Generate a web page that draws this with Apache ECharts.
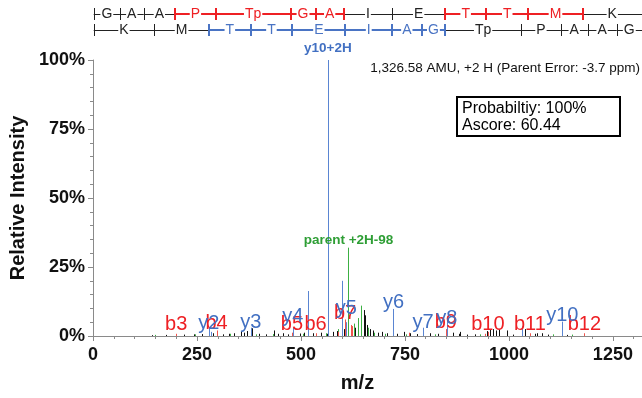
<!DOCTYPE html>
<html><head><meta charset="utf-8">
<script src="https://cdn.jsdelivr.net/npm/echarts@6/dist/echarts.min.js"></script>
<style>html,body{margin:0;padding:0;background:#fff}#c{width:642px;height:398px}</style>
</head><body><div id="c"></div>
<script>
const FONT = 'Arial, "Liberation Sans", Helvetica, sans-serif';

// axis ticks
const xTickStep = 250;
const yTickStep = 25;

// labelled fragment ions (m/z, % intensity, label level in %)
const bIonNames = ['b3','b4','b5','b6','b7','b9','b10','b11','b12'];
const bIonMz = [200.1, 297.2, 478.2, 535.2, 606.2, 848.4, 949.4, 1050.5, 1181.5];
const bIonIntensity = [0.8, 2.0, 1.2, 1.0, 6.0, 2.5, 1.5, 1.0, 1.0];
const bLabelLevel = [4.3, 4.6, 4.0, 4.0, 8.0, 5.0, 4.3, 4.0, 4.3];

const yIonNames = ['y2','y3','y4','y5','y6','y7','y8','y10'];
const yIonMz = [278.2, 379.2, 480.3, 609.3, 722.4, 793.4, 850.4, 1128.5];
const yIonIntensity = [3.0, 3.0, 3.0, 5.0, 9.8, 3.0, 5.8, 5.2];
const yLabelLevel = [4.6, 5.0, 7.0, 10.0, 12.2, 5.0, 6.4, 7.6];

// special annotated peaks
const specialNames = ['y10+2H', 'parent +2H-98'];
const specialMz = [564.8, 614.3];
const specialIntensity = [100, 32];

// other peaks
const bluePeaks = [[516, 16.3], [597.6, 20], [1031, 3.5], [284, 1.5]];
const greenPeaks = [[150,0.4],[246,0.6],[330,0.8],[392,0.6],[432,0.7],[505,0.8],[560,1.0],[590,2.5],[628,4.5],[638,6.5],[644,11],[662,3],[676,1.2],[702,0.8],[752,0.6],[822,0.6],[931,0.6],[1106,0.6],[1151,0.5]];
const redPeaks = [[565,1.0],[590,1.5],[620,4.0],[623,3.6],[760,1.2],[943,0.8]];
const blackPeaks = [[143,0.3],[175,0.4],[218,0.5],[243,0.6],[262,0.7],[279,2.2],[288,1.0],[312,0.6],[328,0.8],[339,1.0],[356,1.6],[363,1.2],[371,1.8],[383,2.8],[398,0.8],[416,0.6],[434,2.0],[446,0.8],[458,1.0],[470,0.6],[497,0.9],[508,1.2],[530,1.0],[547,1.2],[562,0.8],[578,1.5],[586,1.8],[603,2.5],[630,3.0],[636,5.0],[651,9.4],[655,7.5],[659,4.0],[666,2.5],[674,2.0],[685,1.2],[695,1.5],[708,1.0],[730,0.8],[747,1.5],[763,1.0],[780,0.7],[811,1.0],[830,0.8],[866,1.2],[879,0.8],[883,1.5],[899,0.5],[918,0.6],[947,1.8],[955,2.2],[962,2.5],[968,2.0],[975,2.4],[995,2.0],[1010,0.5],[1039,2.5],[1062,0.8],[1067,1.0],[1080,1.0],[1095,0.5],[1140,0.4]];

// peptide fragment ladder
const peptide = ['G','A','A','P','Tp','G','A','I','E','T','T','M','K'];
const bSites = [1.7, 64.8, 121.6, 197.5, 295, 475, 535, 603, 719, 847, 945, 1047, 1177, 1320];
const bSeen = [3,4,5,6,7,9,10,11,12];
const ySites = [1.7, 147, 279, 379, 479, 607, 719, 790, 847, 1029, 1125, 1189, 1259, 1320];
const ySeen = [2,3,4,5,6,7,8,10];

const RED = '#ee2024', RED_LINE = '#f0544c';
const BLUE = '#4270c2', BLUE_LINE = '#5a85d2';
const GREEN = '#2e9e35', GREEN_LINE = '#3cb043';
const BLACK = '#111';

function sticks(data, color, z) {
  return {
    type: 'custom', data: data, z: z, silent: true, clip: false,
    renderItem: function (params, api) {
      const top = api.coord([api.value(0), api.value(1)]);
      const base = api.coord([api.value(0), 0]);
      const x = Math.round(top[0]) + 0.5;
      return { type: 'line', shape: { x1: x, y1: top[1], x2: x, y2: base[1] },
        style: { stroke: color, lineWidth: 1 } };
    }
  };
}
function labels(names, mz, level, color, font, vAlign, gap, z) {
  return {
    type: 'custom', data: mz.map((m, i) => [m, level[i]]), z: z, silent: true, clip: false,
    renderItem: function (params, api) {
      const p = api.coord([api.value(0), api.value(1)]);
      return { type: 'text', x: p[0], y: p[1] - gap,
        style: { text: names[params.dataIndex], fill: color, font: font, align: 'center', verticalAlign: vAlign } };
    }
  };
}
function ladder(residues, sites, seen, color, rowY) {
  const colored = residues.map((_, i) => seen.includes(i) && seen.includes(i + 1));
  return {
    type: 'custom', data: residues.map((r, i) => [sites[i], sites[i + 1]]), z: 20, silent: true, clip: false,
    renderItem: function (params, api) {
      const i = params.dataIndex;
      const x1 = api.coord([api.value(0), 0])[0];
      const x2 = api.coord([api.value(1), 0])[0];
      const c = colored[i];
      const tc = c || (i > 0 && colored[i - 1]);
      const tx = Math.round(x1) + (tc ? 0 : 0.5);
      return { type: 'group', children: [
        { type: 'line', shape: { x1: x1, y1: rowY + (c ? 0 : 0.5), x2: x2, y2: rowY + (c ? 0 : 0.5) },
          style: { stroke: c ? color : '#222', lineWidth: c ? 2 : 1 } },
        { type: 'line', shape: { x1: tx, y1: rowY - 6, x2: tx, y2: rowY + 6 },
          style: { stroke: tc ? color : '#222', lineWidth: tc ? 2 : 1 } },
        { type: 'text', x: (x1 + x2) / 2, y: rowY + 0.5,
          style: { text: residues[i], fill: c ? color : '#222', font: '14px ' + FONT, align: 'center',
            verticalAlign: 'middle', backgroundColor: '#fff', padding: [0, 1] } }
      ] };
    }
  };
}

const chart = echarts.init(document.getElementById('c'), null, { renderer: 'canvas' });
const axisGray = '#8a8a8a';
chart.setOption({
  animation: false,
  backgroundColor: '#fff',
  grid: { left: 92, right: 0, top: 60, bottom: 62 },
  xAxis: [{
    type: 'value', min: 0, max: 1320, interval: xTickStep,
    name: 'm/z', nameLocation: 'middle', nameGap: 37,
    nameTextStyle: { fontFamily: FONT, fontWeight: 'bold', fontSize: 20, color: '#111', padding: [0, 20, 0, 0] },
    axisLine: { show: true, onZero: false, lineStyle: { color: axisGray } },
    axisTick: { show: true, length: 5, lineStyle: { color: axisGray } },
    minorTick: { show: true, splitNumber: 5, length: 3, lineStyle: { color: axisGray } },
    axisLabel: { fontFamily: FONT, fontWeight: 'bold', fontSize: 18, color: '#111', margin: 10, showMaxLabel: false,
      formatter: function (v) { return String(v); } },
    splitLine: { show: false }
  }, {
    type: 'value', position: 'top', min: 0, max: 1320,
    axisLine: { show: true, lineStyle: { color: axisGray } },
    axisTick: { show: false }, axisLabel: { show: false }, splitLine: { show: false }
  }],
  yAxis: {
    type: 'value', min: 0, max: 100, interval: yTickStep,
    name: 'Relative Intensity', nameLocation: 'middle', nameGap: 65,
    nameTextStyle: { fontFamily: FONT, fontWeight: 'bold', fontSize: 20, color: '#111' },
    axisLine: { show: true, lineStyle: { color: axisGray } },
    axisTick: { show: true, length: 5, lineStyle: { color: axisGray } },
    minorTick: { show: true, splitNumber: 5, length: 3, lineStyle: { color: axisGray } },
    axisLabel: { formatter: '{value}%', fontFamily: FONT, fontWeight: 'bold', fontSize: 18, color: '#111', margin: 8 },
    splitLine: { show: false }
  },
  graphic: [
    { type: 'text', right: 2, top: 61, z: 30,
      style: { text: '1,326.58 AMU, +2 H (Parent Error: -3.7 ppm)', font: '13.5px ' + FONT, fill: '#111' } },
    { type: 'rect', shape: { x: 457, y: 97, width: 163, height: 39 }, z: 30,
      style: { fill: '#fff', stroke: '#000', lineWidth: 2 } },
    { type: 'text', x: 462, y: 100, z: 31,
      style: { text: 'Probabiltiy: 100%\nAscore: 60.44', font: '16px ' + FONT, lineHeight: 17, fill: '#000' } }
  ],
  series: [
    sticks(blackPeaks, BLACK, 2),
    sticks(greenPeaks, GREEN_LINE, 3),
    sticks(redPeaks, RED_LINE, 4),
    sticks(bIonMz.map((m, i) => [m, bIonIntensity[i]]), RED_LINE, 4),
    sticks([[specialMz[1], specialIntensity[1]]], GREEN_LINE, 5),
    sticks(bluePeaks, BLUE_LINE, 6),
    sticks(yIonMz.map((m, i) => [m, yIonIntensity[i]]), BLUE_LINE, 6),
    sticks([[specialMz[0], specialIntensity[0]]], BLUE_LINE, 7),
    labels(bIonNames, bIonMz, bLabelLevel, RED, '20px ' + FONT, 'middle', 0, 10),
    labels(yIonNames, yIonMz, yLabelLevel, BLUE, '20px ' + FONT, 'middle', 0, 11),
    labels([specialNames[0]], [specialMz[0]], [specialIntensity[0]], BLUE, 'bold 13.5px ' + FONT, 'bottom', 5, 12),
    labels([specialNames[1]], [specialMz[1]], [specialIntensity[1]], GREEN, 'bold 13.5px ' + FONT, 'bottom', 0, 12),
    ladder(peptide, bSites, bSeen, '#ee2024', 14),
    ladder(peptide.slice().reverse(), ySites, ySeen, '#4a74c4', 30)
  ]
});
</script></body></html>
